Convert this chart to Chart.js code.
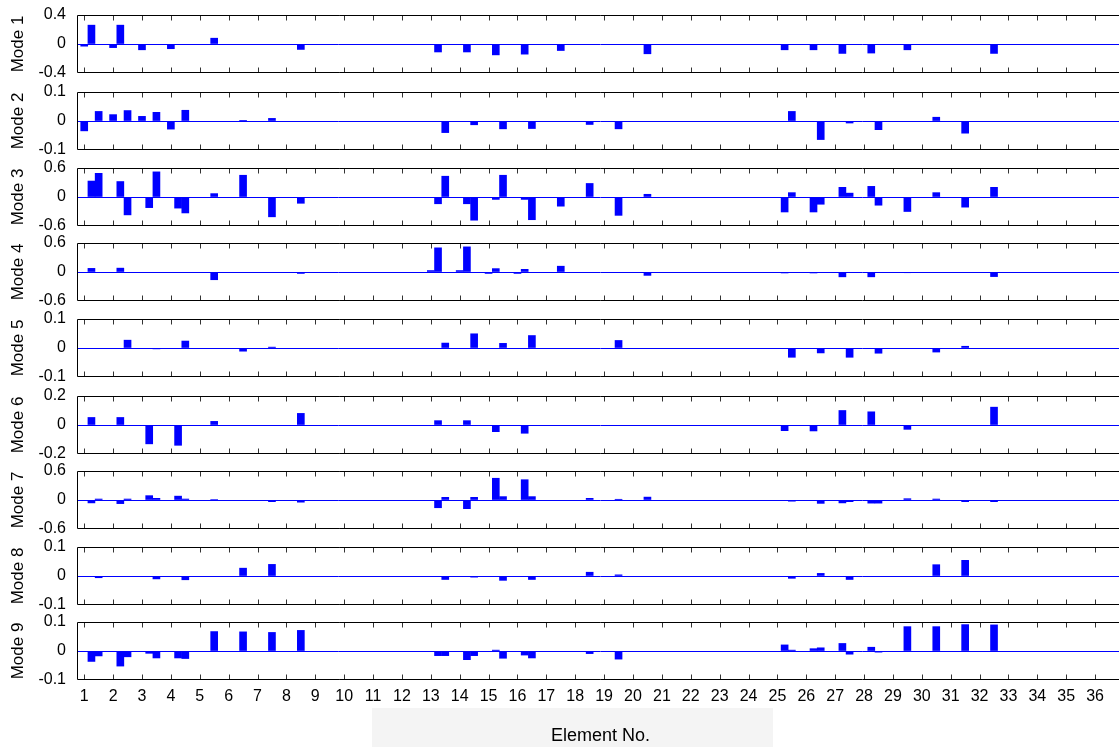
<!DOCTYPE html>
<html>
<head>
<meta charset="utf-8">
<script src="https://cdn.jsdelivr.net/npm/chart.js@4.4.0/dist/chart.umd.min.js"></script>
<style>
  html, body { margin: 0; padding: 0; background: #fff; overflow: hidden; }
  #wrap { position: relative; width: 1119px; height: 747px; overflow: hidden; }
  #wrap canvas { position: absolute; left: 0; }
  #smudge { position: absolute; left: 372px; top: 708px; width: 401px; height: 39px; background: #f4f4f4; }
</style>
</head>
<body>
<div id="wrap"><div id="smudge"></div></div>
<script>
// element numbers on the x axis
var elementNos = [1,2,3,4,5,6,7,8,9,10,11,12,13,14,15,16,17,18,19,20,21,22,23,24,25,26,27,28,29,30,31,32,33,34,35,36];

// y range of each mode panel (ticks at -lim, 0, lim)
var modeLimits = [0.4, 0.1, 0.6, 0.6, 0.1, 0.2, 0.6, 0.1, 0.1];

// [position along the beam, value]
var mode1 = [[1,-0.03],[1.25,0.26],[2,-0.05],[2.25,0.26],[3,-0.08],[4,-0.065],[5.5,0.08],[8.5,-0.075],
  [13.25,-0.11],[14.25,-0.11],[15.25,-0.15],[16.25,-0.14],[17.5,-0.09],[20.5,-0.135],
  [25.25,-0.08],[26.25,-0.08],[27.25,-0.13],[28.25,-0.125],[29.5,-0.08],[32.5,-0.13]];
var mode2 = [[1,-0.034],[1.5,0.033],[2,0.022],[2.5,0.036],[3,0.016],[3.5,0.03],[4,-0.028],[4.5,0.037],[6.5,0.001],[7.5,0.009],
  [13.5,-0.04],[14.5,-0.013],[15.5,-0.027],[16.5,-0.026],[18.5,-0.012],[19.5,-0.027],
  [25.5,0.033],[26.5,-0.064],[27.5,-0.007],[28.5,-0.03],[30.5,0.013],[31.5,-0.042]];
var mode3 = [[1.25,0.33],[1.5,0.49],[2.25,0.32],[2.5,-0.37],[3.25,-0.22],[3.5,0.52],[4.25,-0.23],[4.5,-0.33],
  [5.5,0.07],[6.5,0.45],[7.5,-0.41],[8.5,-0.13],
  [13.25,-0.14],[13.5,0.43],[14.25,-0.14],[14.5,-0.48],[15.25,-0.05],[15.5,0.45],[16.25,-0.05],[16.5,-0.47],
  [17.5,-0.19],[18.5,0.28],[19.5,-0.38],[20.5,0.056],
  [25.25,-0.31],[25.5,0.09],[26.25,-0.31],[26.5,-0.15],[27.25,0.2],[27.5,0.08],[28.25,0.22],[28.5,-0.17],
  [29.5,-0.3],[30.5,0.09],[31.5,-0.21],[32.5,0.2]];
var mode4 = [[1.25,0.075],[2.25,0.08],[3.25,-0.01],[5.5,-0.16],[8.5,-0.03],
  [13,0.03],[13.25,0.5],[14,0.03],[14.25,0.52],[15,-0.03],[15.25,0.07],[16,-0.03],[16.25,0.055],[17.5,0.12],[20.5,-0.07],
  [25.25,-0.02],[26.25,-0.02],[27.25,-0.1],[28.25,-0.1],[29.5,-0.015],[32.5,-0.095]];
var mode5 = [[2.5,0.027],[3.5,-0.003],[4.5,0.024],[6.5,-0.011],[7.5,0.003],
  [13.5,0.017],[14.5,0.049],[15.5,0.016],[16.5,0.043],[19.5,0.026],
  [25.5,-0.032],[26.5,-0.017],[27.5,-0.032],[28.5,-0.018],[30.5,-0.014],[31.5,0.006]];
var mode6 = [[1.25,0.052],[2.25,0.052],[3.25,-0.13],[4.25,-0.14],[5.5,0.025],[8.5,0.08],
  [13.25,0.03],[14.25,0.03],[15.25,-0.046],[16.25,-0.057],
  [25.25,-0.039],[26.25,-0.041],[27.25,0.1],[28.25,0.091],[29.5,-0.03],[32.5,0.123]];
var mode7 = [[1.25,-0.06],[1.5,0.02],[2.25,-0.075],[2.5,0.02],[3.25,0.09],[3.5,0.035],[4.25,0.08],[4.5,0.02],
  [5.5,0.01],[7.5,-0.035],[8.5,-0.045],
  [13.25,-0.16],[13.5,0.055],[14.25,-0.18],[14.5,0.055],[15.25,0.45],[15.5,0.07],[16.25,0.42],[16.5,0.07],
  [17.5,-0.01],[18.5,0.035],[19.5,0.015],[20.5,0.06],
  [25.5,-0.025],[26.5,-0.07],[27.25,-0.06],[27.5,-0.035],[28.25,-0.065],[28.5,-0.065],
  [29.5,0.027],[30.5,0.02],[31.5,-0.035],[32.5,-0.035]];
var mode8 = [[1.5,-0.006],[2.5,-0.002],[3.5,-0.01],[4.5,-0.013],[6.5,0.027],[7.5,0.04],
  [13.5,-0.012],[14.5,-0.004],[15.5,-0.015],[16.5,-0.012],[18.5,0.013],[19.5,0.004],
  [25.5,-0.008],[26.5,0.009],[27.5,-0.012],[30.5,0.039],[31.5,0.054]];
var mode9 = [[1.25,-0.036],[1.5,-0.017],[2.25,-0.052],[2.5,-0.02],[3.25,-0.008],[3.5,-0.024],[4.25,-0.024],[4.5,-0.026],
  [5.5,0.067],[6.5,0.066],[7.5,0.064],[8.5,0.071],
  [13.25,-0.016],[13.5,-0.016],[14.25,-0.03],[14.5,-0.016],[15.25,0.003],[15.5,-0.025],[16.25,-0.014],[16.5,-0.024],
  [18.5,-0.009],[19.5,-0.028],
  [25.25,0.021],[25.5,0.003],[26.25,0.008],[26.5,0.011],[27.25,0.026],[27.5,-0.011],[28.25,0.013],[28.5,-0.004],
  [29.5,0.084],[30.5,0.084],[31.5,0.091],[32.5,0.09]];

var modes = [mode1, mode2, mode3, mode4, mode5, mode6, mode7, mode8, mode9];

// layout of the panels (chart area top of each, in px)
var panelTops = [15, 92, 168, 243, 319, 396, 471, 547, 622];
var panelH = 58;
var padTop = 22;
var fontFam = "'Liberation Sans', Arial, sans-serif";

// box on three sides plus inward ticks, like the original plot
var framePlugin = {
  id: 'frame',
  afterDraw: function(chart) {
    var ctx = chart.ctx, a = chart.chartArea, x = chart.scales.x;
    var t = Math.round(a.top) + 0.5, b = Math.round(a.bottom) - 0.5, l = Math.round(a.left) + 0.5;
    ctx.save();
    ctx.lineWidth = 1;
    ctx.strokeStyle = '#333';
    ctx.beginPath();
    elementNos.forEach(function(n) {
      var px = Math.round(x.getPixelForValue(n)) + 0.5;
      ctx.moveTo(px, t); ctx.lineTo(px, t + 5);
      ctx.moveTo(px, b); ctx.lineTo(px, b - 5);
    });
    ctx.stroke();
    ctx.strokeStyle = '#000';
    ctx.beginPath();
    ctx.moveTo(a.right, t); ctx.lineTo(l, t); ctx.lineTo(l, b); ctx.lineTo(a.right, b);
    ctx.stroke();
    ctx.restore();
  }
};

var wrap = document.getElementById('wrap');

function makePanel(i) {
  var last = (i === modes.length - 1);
  var lim = modeLimits[i];
  var cv = document.createElement('canvas');
  var h = last ? (747 - (panelTops[i] - padTop)) : (panelH + 2 * padTop);
  cv.width = 1124;
  cv.height = h;
  cv.style.top = (panelTops[i] - padTop) + 'px';
  wrap.appendChild(cv);

  new Chart(cv.getContext('2d'), {
    type: 'bar',
    data: {
      datasets: [{
        data: modes[i].map(function(p) { return {x: p[0], y: p[1]}; }),
        backgroundColor: '#0000ff',
        borderWidth: 0,
        barThickness: 7
      }]
    },
    options: {
      responsive: false,
      animation: false,
      layout: { padding: { top: padTop, bottom: last ? 0 : padTop, left: 0, right: 0 } },
      plugins: { legend: { display: false }, tooltip: { enabled: false } },
      scales: {
        x: {
          type: 'linear',
          display: last,
          min: 0.75,
          max: 37,
          offset: false,
          afterBuildTicks: function(s) { s.ticks = elementNos.map(function(v) { return {value: v}; }); },
          afterFit: function(s) { if (last) s.height = h - padTop - panelH; },
          ticks: { autoSkip: false, maxRotation: 0, color: '#000', padding: 7,
                   font: { family: fontFam, size: 16 } },
          grid: { display: false, drawTicks: false, offset: false },
          border: { display: false },
          title: { display: true, text: 'Element No.', color: '#000',
                   font: { family: fontFam, size: 18 }, padding: { top: 0, bottom: 0 } }
        },
        y: {
          min: -lim,
          max: lim,
          afterBuildTicks: function(s) { s.ticks = [-lim, 0, lim].map(function(v) { return {value: v}; }); },
          afterFit: function(s) { s.width = 77; },
          ticks: { color: '#000', padding: 11, font: { family: fontFam, size: 16 },
                   callback: function(v) { return String(v); } },
          grid: { drawTicks: false,
                  color: function(c) { return (c.tick && c.tick.value === 0) ? '#0000ff' : 'rgba(0,0,0,0)'; } },
          border: { display: false },
          title: { display: true, text: 'Mode ' + (i + 1), color: '#000',
                   font: { family: fontFam, size: 17 }, padding: { top: 8, bottom: 0 } }
        }
      }
    },
    plugins: [framePlugin]
  });
}

for (var i = 0; i < modes.length; i++) makePanel(i);
</script>
</body>
</html>
